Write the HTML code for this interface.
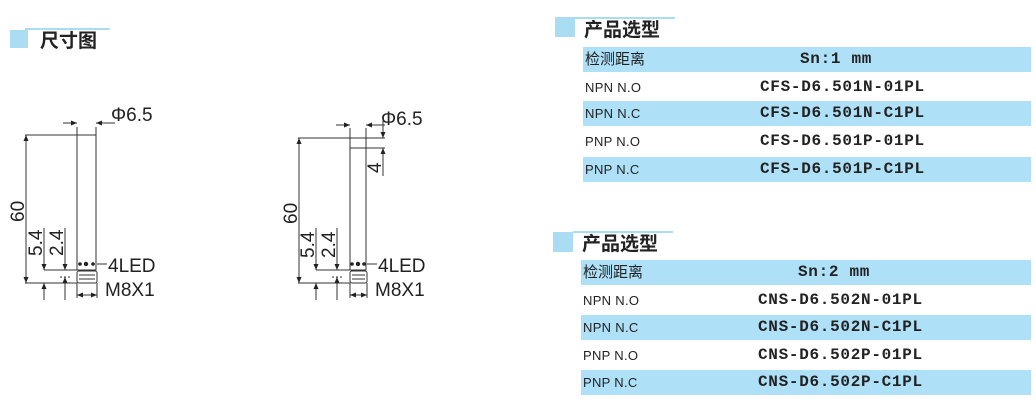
<!DOCTYPE html>
<html><head><meta charset="utf-8"><style>
body{margin:0;width:1036px;height:402px;background:#fff;overflow:hidden;position:relative;font-family:"Liberation Sans","Noto Sans CJK SC",sans-serif}
.t{position:absolute;font-weight:bold;font-size:19px;color:#222;font-family:"Noto Sans CJK SC","WenQuanYi Zen Hei",sans-serif;line-height:20px}
.sq{position:absolute;background:#aadcf2}
.row{position:absolute;left:583px;width:448px;height:25px;font-size:13px;color:#222}
.row.b{background:#aee0f7}
.row .l{position:absolute;left:2px;top:5px;font-family:"Liberation Sans","Noto Sans CJK SC",sans-serif;letter-spacing:0.3px}
.row .h{font-family:"Noto Sans CJK SC",sans-serif;top:1px;font-size:15px;letter-spacing:0}
.row .r{position:absolute;left:177px;top:3px;white-space:nowrap;font-weight:bold;font-size:16px;font-family:"Liberation Mono","Noto Sans CJK SC",monospace;letter-spacing:0.7px}
.row .s{left:217px;font-size:16px}
</style></head><body>
<div class="sq" style="left:10px;top:30px;width:18px;height:18px"></div>
<div class="sq" style="left:25px;top:28px;width:85px;height:2px"></div>
<div class="t" style="left:40px;top:30px">尺寸图</div>

<div class="sq" style="left:555px;top:17px;width:20px;height:20px"></div>
<div class="sq" style="left:575px;top:17px;width:100px;height:2px"></div>
<div class="t" style="left:584px;top:19px">产品选型</div>
<div class="row b" style="top:47px"><span class="l h">检测距离</span><span class="r s">Sn:1 mm</span></div>
<div class="row" style="top:75px"><span class="l">NPN N.O</span><span class="r">CFS-D6.501N-01PL</span></div>
<div class="row b" style="top:101px"><span class="l">NPN N.C</span><span class="r">CFS-D6.501N-C1PL</span></div>
<div class="row" style="top:129px"><span class="l">PNP N.O</span><span class="r">CFS-D6.501P-01PL</span></div>
<div class="row b" style="top:157px"><span class="l">PNP N.C</span><span class="r">CFS-D6.501P-C1PL</span></div>

<div class="sq" style="left:553px;top:232px;width:20px;height:20px"></div>
<div class="sq" style="left:573px;top:231px;width:100px;height:2px"></div>
<div class="t" style="left:582px;top:233px">产品选型</div>
<div class="row b" style="top:260px;left:581px;width:450px"><span class="l h">检测距离</span><span class="r s">Sn:2 mm</span></div>
<div class="row" style="top:288px;left:581px"><span class="l">NPN N.O</span><span class="r">CNS-D6.502N-01PL</span></div>
<div class="row b" style="top:315px;left:581px;width:450px"><span class="l">NPN N.C</span><span class="r">CNS-D6.502N-C1PL</span></div>
<div class="row" style="top:343px;left:581px"><span class="l">PNP N.O</span><span class="r">CNS-D6.502P-01PL</span></div>
<div class="row b" style="top:370px;left:581px;width:450px"><span class="l">PNP N.C</span><span class="r">CNS-D6.502P-C1PL</span></div>

<svg width="1036" height="402" style="position:absolute;left:0;top:0" xmlns="http://www.w3.org/2000/svg">
<defs><marker id="a" markerWidth="6" markerHeight="6" refX="6" refY="3" orient="auto"><path d="M0,0.5 L6,3 L0,5.5z" fill="#222"/></marker></defs>
<g stroke="#333" stroke-width="1" fill="none">
<rect x="77" y="135" width="19" height="135"/>
<line x1="77" y1="135" x2="77" y2="127"/><line x1="96" y1="135" x2="96" y2="127"/>
<line x1="63" y1="123" x2="77" y2="123" marker-end="url(#a)"/><line x1="115" y1="123" x2="96" y2="123" marker-end="url(#a)"/>
<line x1="25" y1="135" x2="77" y2="135"/>
<line x1="26" y1="209" x2="26" y2="135" marker-end="url(#a)"/><line x1="26" y1="209" x2="26" y2="283" marker-end="url(#a)"/>
<line x1="25" y1="283" x2="77" y2="283"/>
<line x1="44" y1="270" x2="77" y2="270"/>
<line x1="44" y1="228" x2="44" y2="270" marker-end="url(#a)"/><line x1="44" y1="300" x2="44" y2="283" marker-end="url(#a)"/>
<line x1="65" y1="228" x2="65" y2="270" marker-end="url(#a)"/><line x1="65" y1="300" x2="65" y2="277" marker-end="url(#a)"/>
<line x1="60" y1="277" x2="72" y2="277" stroke-dasharray="2,2"/>
<rect x="77" y="271" width="20" height="12" rx="2"/><line x1="79" y1="275" x2="95" y2="275"/><line x1="79" y1="279" x2="95" y2="279"/>
<line x1="77" y1="283" x2="77" y2="298"/><line x1="97" y1="283" x2="97" y2="298"/>
<line x1="87" y1="295" x2="77" y2="295" marker-end="url(#a)"/><line x1="87" y1="295" x2="97" y2="295" marker-end="url(#a)"/>
<line x1="97" y1="264" x2="107" y2="264"/>
<rect x="350" y="138" width="16" height="132"/>
<line x1="350" y1="138" x2="350" y2="128"/><line x1="366" y1="138" x2="366" y2="128"/>
<line x1="336" y1="125" x2="350" y2="125" marker-end="url(#a)"/><line x1="385" y1="125" x2="366" y2="125" marker-end="url(#a)"/>
<line x1="298" y1="138" x2="385" y2="138"/><line x1="350" y1="148" x2="385" y2="148"/>
<line x1="383" y1="120" x2="383" y2="138" marker-end="url(#a)"/><line x1="383" y1="176" x2="383" y2="148" marker-end="url(#a)"/>
<line x1="299" y1="210" x2="299" y2="138" marker-end="url(#a)"/><line x1="299" y1="210" x2="299" y2="283" marker-end="url(#a)"/>
<line x1="298" y1="283" x2="350" y2="283"/>
<line x1="316" y1="270" x2="350" y2="270"/>
<line x1="316" y1="228" x2="316" y2="270" marker-end="url(#a)"/><line x1="316" y1="300" x2="316" y2="283" marker-end="url(#a)"/>
<line x1="337" y1="228" x2="337" y2="270" marker-end="url(#a)"/><line x1="337" y1="300" x2="337" y2="277" marker-end="url(#a)"/>
<line x1="332" y1="277" x2="344" y2="277" stroke-dasharray="2,2"/>
<rect x="350" y="271" width="17" height="12" rx="2"/><line x1="352" y1="275" x2="365" y2="275"/><line x1="352" y1="279" x2="365" y2="279"/>
<line x1="350" y1="283" x2="350" y2="298"/><line x1="367" y1="283" x2="367" y2="298"/>
<line x1="358" y1="295" x2="350" y2="295" marker-end="url(#a)"/><line x1="358" y1="295" x2="367" y2="295" marker-end="url(#a)"/>
<line x1="367" y1="264" x2="377" y2="264"/>
</g>
<g fill="#222">
<circle cx="80" cy="264" r="1.8"/><circle cx="86" cy="264" r="2.2"/><circle cx="93" cy="264" r="1.8"/>
<circle cx="352" cy="264" r="1.8"/><circle cx="358" cy="264" r="2.2"/><circle cx="364" cy="264" r="1.8"/>
</g>
<g font-family="Liberation Sans, sans-serif" font-size="19" fill="#222">
<text x="111" y="121">Φ6.5</text>
<text x="108" y="272">4LED</text>
<text x="105" y="296">M8X1</text>
<text transform="translate(24,222) rotate(-90)">60</text>
<text transform="translate(42,256) rotate(-90)">5.4</text>
<text transform="translate(63,256) rotate(-90)">2.4</text>
<text x="381" y="125">Φ6.5</text>
<text x="378" y="272">4LED</text>
<text x="375" y="296">M8X1</text>
<text transform="translate(297,224) rotate(-90)">60</text>
<text transform="translate(314,258) rotate(-90)">5.4</text>
<text transform="translate(335,258) rotate(-90)">2.4</text>
<text transform="translate(381,173) rotate(-90)">4</text>
</g>
</svg>
</body></html>
